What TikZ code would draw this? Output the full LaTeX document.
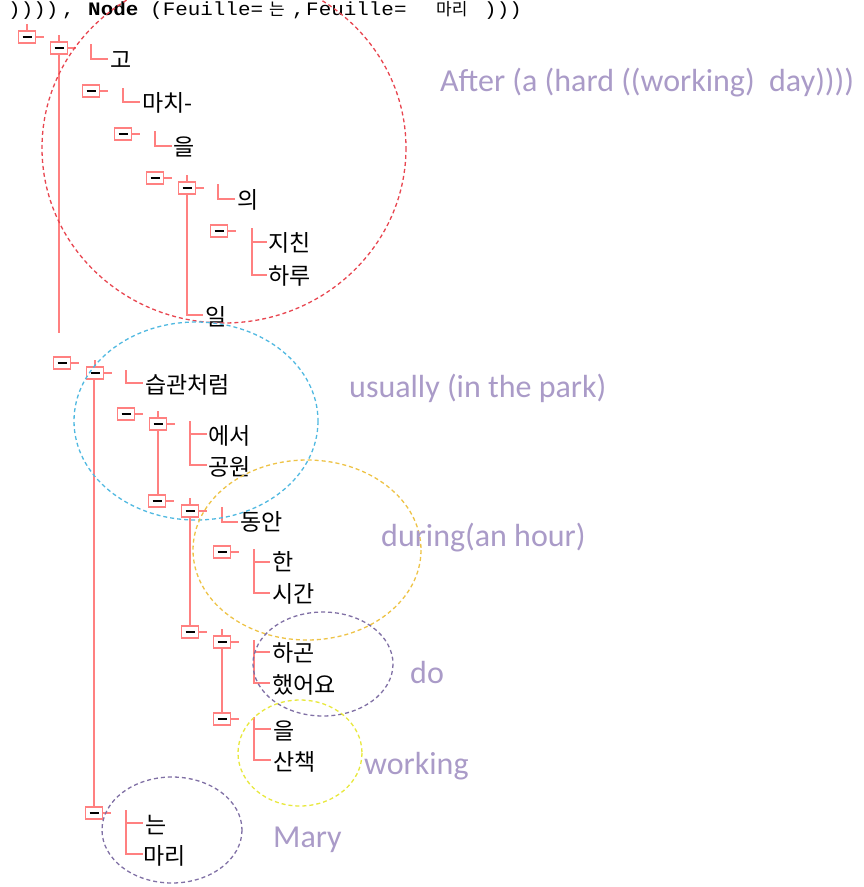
\documentclass[tikz,border=0pt]{standalone}
\usepackage{fontspec}
\setmainfont{Liberation Serif}
\newfontfamily\kr{Noto Sans CJK KR}
\newfontfamily\lab{Carlito}
\newfontfamily\topfont{Liberation Mono}
\definecolor{treered}{RGB}{255,128,128}
\definecolor{circred}{RGB}{232,70,80}
\definecolor{circblue}{RGB}{80,185,225}
\definecolor{circgold}{RGB}{238,195,70}
\definecolor{circpurple}{RGB}{128,112,165}
\definecolor{circyellow}{RGB}{232,232,60}
\definecolor{labpurple}{RGB}{170,155,200}
\tikzset{
  tl/.style={draw=treered, line width=2pt},
  tvb/.style={draw=treered, line width=1.6pt, minimum width=17pt, minimum height=12pt, inner sep=0pt, fill=white,
    path picture={\draw[black,line width=1.8pt] ([xshift=-4.5pt]path picture bounding box.center) -- ([xshift=4.5pt]path picture bounding box.center);}},
  leaf/.style={anchor=west, inner sep=0pt, font=\kr\fontsize{23}{23}\selectfont, text=black},
  circ/.style={line width=1.3pt, dash pattern=on 4pt off 3pt},
  lbl/.style={anchor=west, inner sep=0pt, font=\lab\fontsize{32}{32}\selectfont, text=labpurple},
  toptxt/.style={anchor=base west, inner sep=0pt, xscale=1.1, font=\topfont\fontsize{19}{19}\selectfont, text=black},
  topkr/.style={anchor=base west, inner sep=0pt, font=\kr\fontsize{17}{17}\selectfont, text=black}
}
\begin{document}
\begin{tikzpicture}[x=1pt,y=-1pt]
\useasboundingbox (0,0) rectangle (863,887);
\clip (0,0) rectangle (863,887);
\fill[white] (0,0) rectangle (863,887);
% top text line
\node[toptxt] (t1) at (8,15) {))))};
\node[toptxt] (t2) at (62,15) {,};
\node[toptxt,font=\topfont\bfseries\fontsize{19}{19}\selectfont] (t3) at (88,15) {Node};
\node[toptxt] (t4) at (150,15) {(Feuille=};
\node[topkr] (t5) at (269,15) {는};
\node[toptxt] (t6) at (292,15) {,};
\node[toptxt] (t7) at (306,15) {Feuille=};
\node[topkr] (t8) at (436,15) {마리};
\node[toptxt] (t9) at (484,15) {)))};
% stems and brackets
\draw[tl] (59,54) -- (59,333);
\draw[tl] (91,44) |- (108,59);
\draw[tl] (123,88) |- (140,102);
\draw[tl] (155,131) |- (172,146);
\draw[tl] (187,194) |- (203,315);
\draw[tl] (218,184) |- (235,199);
\draw[tl] (252,228) |- (267,275);
\draw[tl] (252,242) -- (267,242);
\draw[tl] (94,379) -- (94,807);
\draw[tl] (126,370) |- (143,383);
\draw[tl] (158,430) -- (158,495);
\draw[tl] (190,421) |- (207,465);
\draw[tl] (190,434) -- (207,434);
\draw[tl] (190,517) -- (190,627);
\draw[tl] (222,507) |- (238,522);
\draw[tl] (254,549) |- (270,593);
\draw[tl] (254,562) -- (270,562);
\draw[tl] (222,648) -- (222,713);
\draw[tl] (254,640) |- (270,683);
\draw[tl] (254,652) -- (270,652);
\draw[tl] (254,717) |- (271,760);
\draw[tl] (254,729) -- (271,729);
\draw[tl] (126,810) |- (143,854);
\draw[tl] (126,823) -- (143,823);
% top stubs
\foreach \x/\y in {27/37, 59/48, 187/188, 95/373, 158/424, 190/511, 222/642}
  \draw[tl] (\x,\y-6) -- (\x,\y-13);
% boxes with right stubs
\foreach \n/\x/\y in {A/27/37, B/59/48, C/91/91, D/123/134, E/155/178, F/187/188, G/219/231,
  H/62/363, I/95/373, J/126/414, K/158/424, L/157/501, M/190/511, O/222/552, N/190/632, P/222/642, Q/222/719, R/94/813}
{
  \draw[tl] (\x+8,\y) -- (\x+17,\y);
  \node[tvb] (\n) at (\x,\y) {};
}
% leaves
\node[leaf] (l1) at (110,60) {고};
\node[leaf] (l2) at (142,103) {마치-};
\node[leaf] (l3) at (173,147) {을};
\node[leaf] (l4) at (237,200) {의};
\node[leaf] (l5) at (268,243) {지친};
\node[leaf] (l6) at (268,276) {하루};
\node[leaf] (l7) at (205,317) {일};
\node[leaf] (l8) at (145,385) {습관처럼};
\node[leaf] (l9) at (208,436) {에서};
\node[leaf] (l10) at (208,467) {공원};
\node[leaf] (l11) at (240,522) {동안};
\node[leaf] (l12) at (272,562) {한};
\node[leaf] (l13) at (272,594) {시간};
\node[leaf] (l14) at (272,653) {하곤};
\node[leaf] (l15) at (272,685) {했어요};
\node[leaf] (l16) at (273,731) {을};
\node[leaf] (l17) at (273,762) {산책};
\node[leaf] (l18) at (145,825) {는};
\node[leaf] (l19) at (143,856) {마리};
% dashed circles
\draw[circ, circred] (224,148) ellipse [x radius=182, y radius=175];
\draw[circ, circblue] (196,421) ellipse [x radius=122, y radius=99];
\draw[circ, circgold] (307,550) ellipse [x radius=114, y radius=90];
\draw[circ, circpurple] (323,664) ellipse [x radius=70, y radius=52];
\draw[circ, circyellow] (300,753) ellipse [x radius=62, y radius=53];
\draw[circ, circpurple] (172,830) ellipse [x radius=70, y radius=53];
% labels
\node[lbl] (g1) at (440,83) {After (a (hard ((working)\ \ day))))};
\node[lbl] (g2) at (349,388) {usually (in the park)};
\node[lbl] (g3) at (381,538) {during(an hour)};
\node[lbl] (g4) at (410,672) {do};
\node[lbl] (g5) at (364,766) {working};
\node[lbl] (g6) at (273,840) {Mary};
\end{tikzpicture}
\end{document}
